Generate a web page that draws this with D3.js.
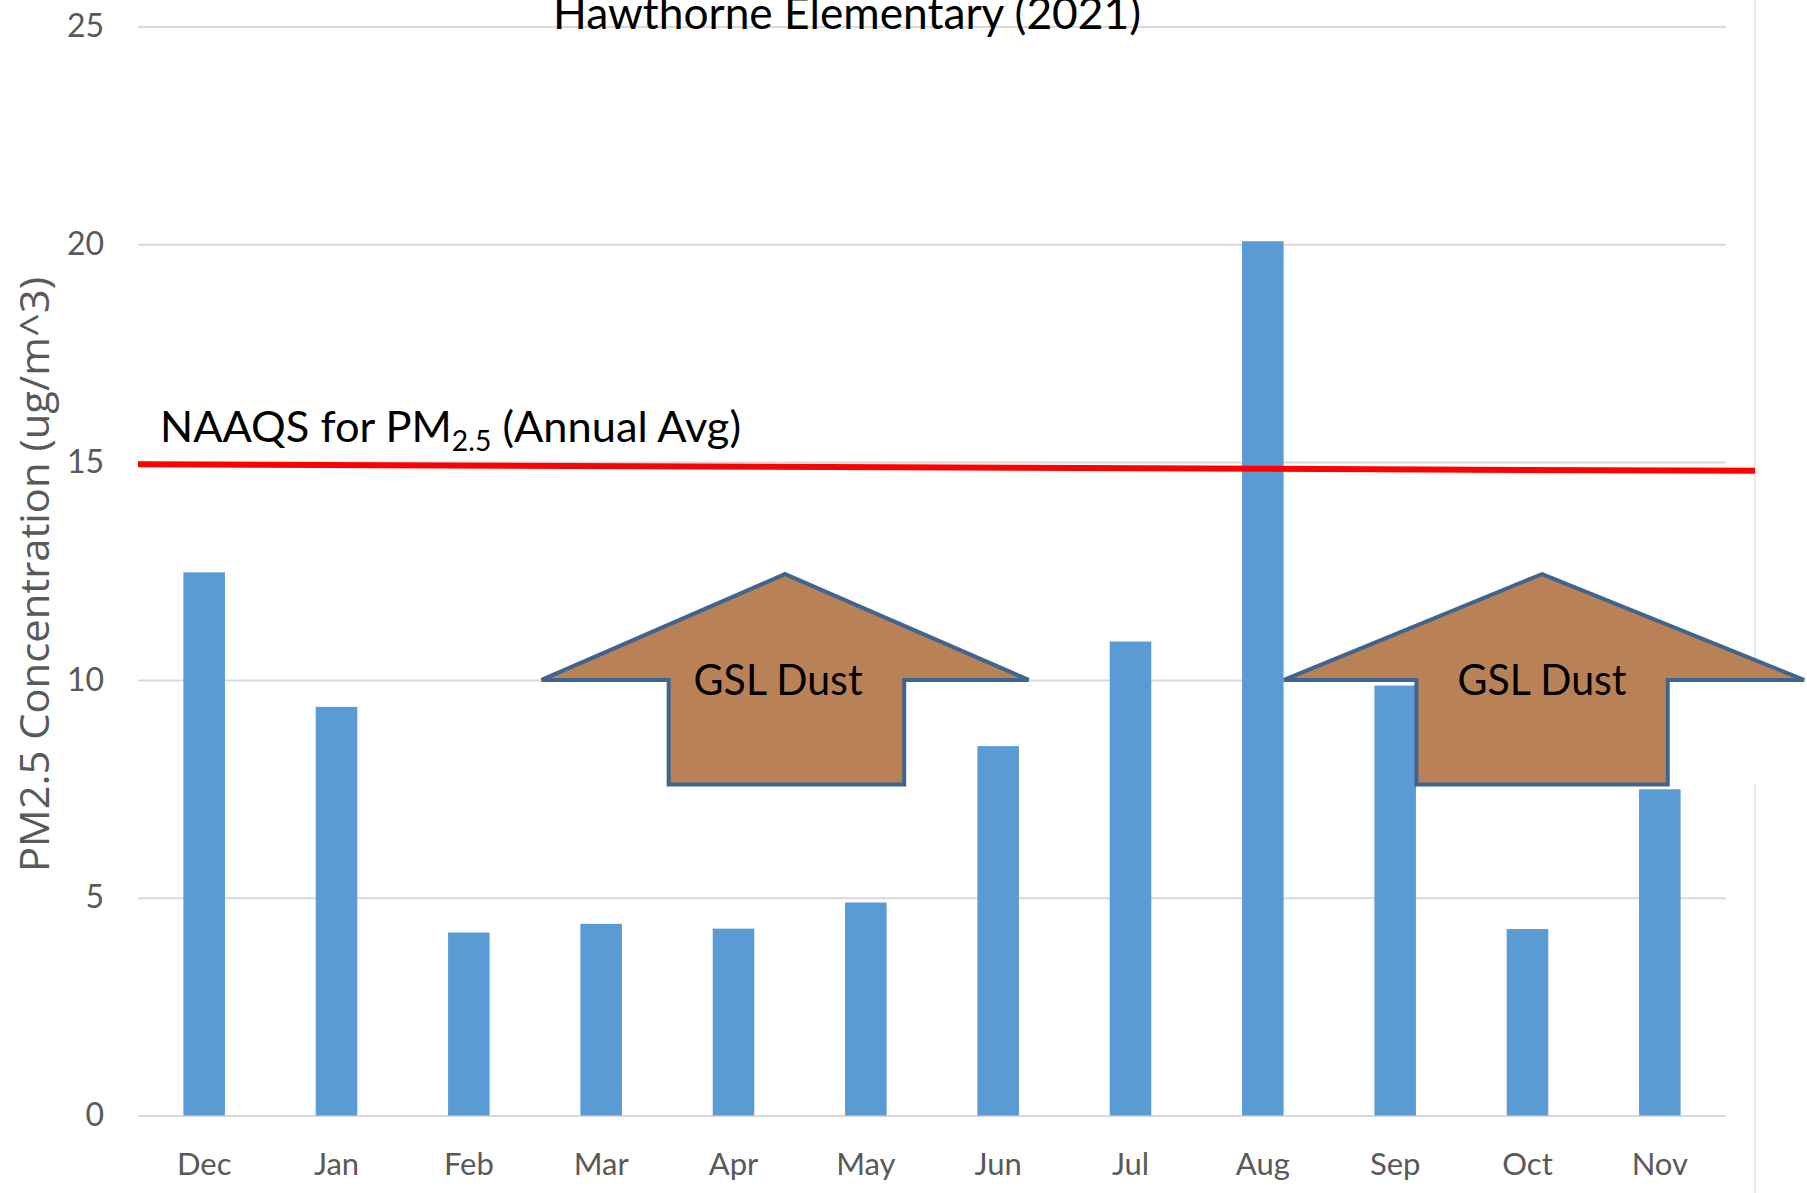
<!DOCTYPE html>
<html>
<head>
<meta charset="utf-8">
<script src="https://cdn.jsdelivr.net/npm/d3@7"></script>
<style>
  body { margin: 0; background: #fff; }
  svg text { font-family: Lato, "Open Sans", sans-serif; }
</style>
</head>
<body>
<div id="chart"></div>
<script>
// monthly PM2.5 averages, Dec 2020 - Nov 2021
var months = ["Dec", "Jan", "Feb", "Mar", "Apr", "May", "Jun", "Jul", "Aug", "Sep", "Oct", "Nov"];
var pm25 = [12.47, 9.38, 4.2, 4.4, 4.29, 4.89, 8.48, 10.88, 20.07, 9.87, 4.28, 7.49];
var yTicks = [0, 5, 10, 15, 20, 25];
// standard line, start and end value (it is drawn a bit tilted in the source)
var naaqsLevel = [14.95, 14.8];
var arrowLabels = ["GSL Dust", "GSL Dust"];

document.addEventListener("DOMContentLoaded", function() {

    var width = 1807, height = 1193;
    var margin = {top: 26.5, right: 81, bottom: 77.5, left: 138};
    var frameX = 1755;

    var svg = d3.select("#chart")
        .append("svg")
        .attr("width", width)
        .attr("height", height)
        .style("display", "block");

    svg.append("rect")
        .attr("width", width)
        .attr("height", height)
        .attr("fill", "#fff");

    var x = d3.scaleBand()
        .domain(months)
        .range([margin.left, width - margin.right])
        .paddingInner(0.686)
        .paddingOuter(0.343);

    var y = d3.scaleLinear()
        .domain([0, 25])
        .range([height - margin.bottom, margin.top]);

    var bw = x.bandwidth();
    // month index -> centre of its bar, used to place the arrows
    var xi = d3.scaleLinear()
        .domain([0, months.length - 1])
        .range([x(months[0]) + bw / 2, x(months[months.length - 1]) + bw / 2]);

    // gridlines + y tick labels
    svg.append("g")
        .attr("transform", "translate(" + margin.left + ",0)")
        .call(d3.axisLeft(y).tickValues(yTicks).tickSize(-(width - margin.left - margin.right)).tickPadding(34))
        .call(function(g) { g.select(".domain").remove(); })
        .call(function(g) {
            g.selectAll(".tick line").attr("stroke", "#D9D9D9").attr("stroke-width", 2);
            g.selectAll(".tick text").attr("fill", "#595959").style("font-size", "32px");
        });

    // light frame line on the right
    svg.append("line")
        .attr("x1", frameX).attr("x2", frameX)
        .attr("y1", 0).attr("y2", height)
        .attr("stroke", "#E3E3E3")
        .attr("stroke-width", 1.5);

    // arrow shapes (in month-index / value units)
    var arrows = [
        {tip: 4.39, headL: 2.55, headR: 6.23, shaftL: 3.51, shaftR: 5.29, dx: -7},
        {tip: 10.11, headL: 8.16, headR: 12.09, shaftL: 9.16, shaftR: 11.06, dx: 0}
    ];
    var tipV = 12.43, baseV = 10.0, bottomV = 7.6;

    // white box behind each arrow (hides the frame line like in the source)
    svg.selectAll(".abox")
        .data(arrows)
        .enter()
        .append("rect")
        .attr("x", function(d) { return xi(d.headL); })
        .attr("y", y(baseV))
        .attr("width", function(d) { return xi(d.headR) - xi(d.headL); })
        .attr("height", y(bottomV) - y(baseV))
        .attr("fill", "#fff");

    svg.selectAll(".bar")
        .data(pm25)
        .enter()
        .append("rect")
        .attr("class", "bar")
        .attr("x", function(d, i) { return x(months[i]); })
        .attr("y", function(d) { return y(d); })
        .attr("width", bw)
        .attr("height", function(d) { return y(0) - y(d); })
        .attr("fill", "#5B9BD5");

    svg.selectAll(".arrow")
        .data(arrows)
        .enter()
        .append("polygon")
        .attr("points", function(d) {
            var pts = [
                [xi(d.tip), y(tipV)],
                [xi(d.headR), y(baseV)],
                [xi(d.shaftR), y(baseV)],
                [xi(d.shaftR), y(bottomV)],
                [xi(d.shaftL), y(bottomV)],
                [xi(d.shaftL), y(baseV)],
                [xi(d.headL), y(baseV)]
            ];
            return pts.map(function(p) { return p.join(","); }).join(" ");
        })
        .attr("fill", "#B57D4F")
        .attr("fill-opacity", 0.96)
        .attr("stroke", "#41648F")
        .attr("stroke-width", 4)
        .attr("stroke-linejoin", "miter");

    svg.selectAll(".alabel")
        .data(arrows)
        .enter()
        .append("text")
        .attr("x", function(d) { return xi(d.tip) + d.dx; })
        .attr("y", y(baseV) + 15)
        .attr("text-anchor", "middle")
        .attr("textLength", 169)
        .attr("lengthAdjust", "spacingAndGlyphs")
        .style("font-size", "43px")
        .attr("fill", "#000")
        .text(function(d, i) { return arrowLabels[i]; });

    // NAAQS reference line
    svg.append("path")
        .datum([[margin.left, naaqsLevel[0]], [frameX, naaqsLevel[1]]])
        .attr("d", d3.line().x(function(d) { return d[0]; }).y(function(d) { return y(d[1]); }))
        .attr("stroke", "#FF0000")
        .attr("stroke-width", 6)
        .attr("fill", "none");

    var naaqs = svg.append("text")
        .attr("x", 160)
        .attr("y", y(15) - 20)
        .attr("fill", "#000")
        .style("font-size", "43px");
    naaqs.append("tspan").text("NAAQS for PM");
    naaqs.append("tspan").attr("dy", 9).style("font-size", "28px").text("2.5");
    naaqs.append("tspan").attr("dy", -9).text(" (Annual Avg)");
    naaqs.attr("textLength", 581).attr("lengthAdjust", "spacingAndGlyphs");

    // title (cut at the top like the source)
    svg.append("text")
        .attr("x", 847)
        .attr("y", 29)
        .attr("text-anchor", "middle")
        .attr("textLength", 588)
        .attr("lengthAdjust", "spacingAndGlyphs")
        .style("font-size", "44px")
        .attr("fill", "#000")
        .text("Hawthorne Elementary (2021)");

    // x labels
    svg.append("g")
        .attr("transform", "translate(0," + y(0) + ")")
        .call(d3.axisBottom(x).tickSize(0))
        .call(function(g) { g.select(".domain").remove(); })
        .call(function(g) {
            g.selectAll(".tick text")
                .attr("y", 59.5)
                .attr("dy", 0)
                .attr("fill", "#595959")
                .style("font-size", "31px");
        });

    // y axis title
    svg.append("text")
        .attr("transform", "translate(33," + ((y(0) + y(25)) / 2 + 3.5) + ") rotate(-90)")
        .attr("text-anchor", "middle")
        .attr("dominant-baseline", "central")
        .attr("textLength", 595)
        .attr("lengthAdjust", "spacingAndGlyphs")
        .style("font-family", "'Open Sans', sans-serif")
        .style("font-size", "41px")
        .attr("fill", "#595959")
        .text("PM2.5 Concentration (ug/m^3)");
});
</script>
</body>
</html>
